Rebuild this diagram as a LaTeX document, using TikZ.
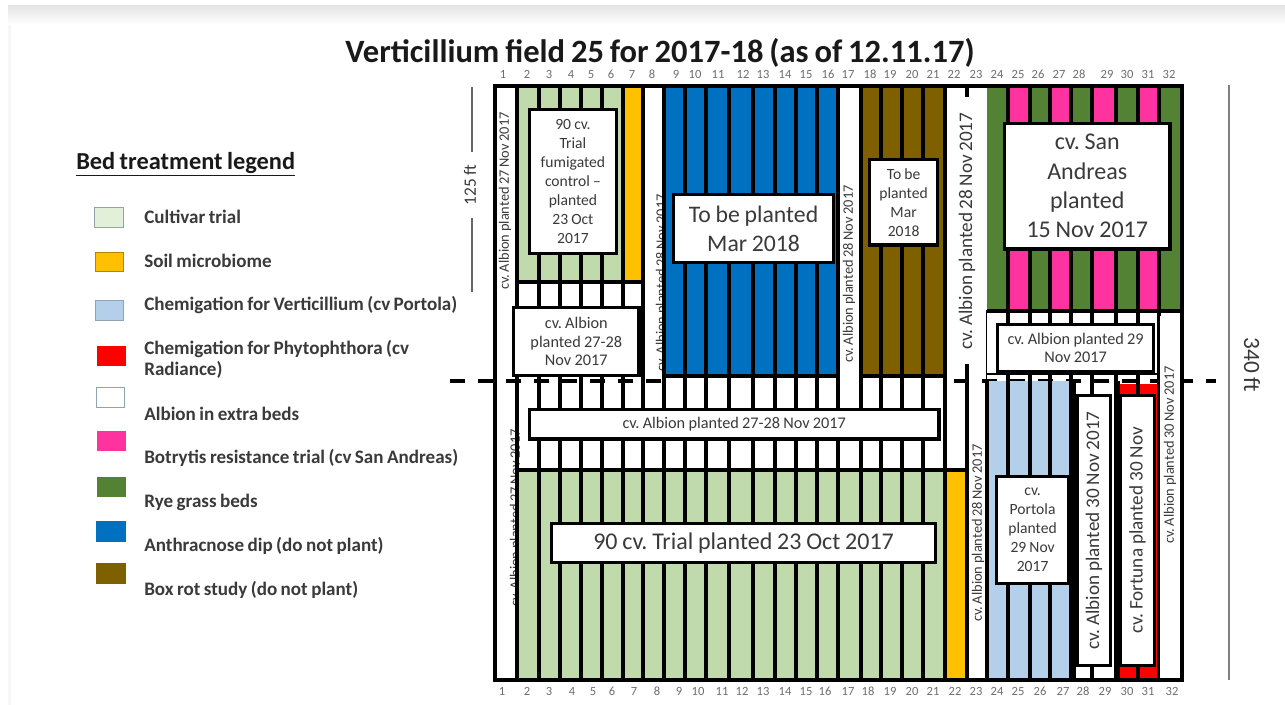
\documentclass[tikz,border=0pt]{standalone}
\usepackage{fontspec}
\setmainfont[WordSpace=0.8]{Carlito}
\frenchspacing
\definecolor{trial}{HTML}{C1DAAB}
\definecolor{trialleg}{HTML}{E2F0D9}
\definecolor{soil}{HTML}{FFC000}
\definecolor{chemv}{HTML}{B4CFEA}
\definecolor{chemp}{HTML}{FF0000}
\definecolor{botry}{HTML}{FF33A0}
\definecolor{rye}{HTML}{548235}
\definecolor{anth}{HTML}{0070C0}
\definecolor{boxrot}{HTML}{7F6000}
\definecolor{ink}{HTML}{3A3A3A}
\definecolor{numc}{HTML}{6E6E6E}
\definecolor{edgeb}{HTML}{8FA3B5}
\newcommand{\fsz}[2]{\fontsize{#1}{#2}\selectfont}
\tikzset{
 bedline/.style={black,line width=2.6pt},
 labelbox/.style={draw=black,fill=white,line width=2.4pt,align=center,text=ink,inner sep=0pt,anchor=north west,execute at begin node={\spaceskip=.2em\relax}},
 sidelabel/.style={rotate=90,text=ink,inner sep=0pt},
 smallside/.style={sidelabel,font=\fsz{10.8}{12}},
 numlabel/.style={text=numc,inner sep=0pt,font=\fsz{9.4}{10}},
 swatch/.style={line width=.7pt},
 legendtext/.style={text=ink,anchor=west,inner sep=0pt,font=\fsz{14.3}{16}\bfseries},
}
\begin{document}
\begin{tikzpicture}[x=.75pt,y=-.75pt]
\useasboundingbox (0,0) rectangle (1285,705);
\fill[white] (0,0) rectangle (1285,705);
\shade[top color=black!10,bottom color=white] (8,6) rectangle (1285,25);
\fill[black!3] (8,25) rectangle (11,705);
\node[font=\fsz{24.4}{26}\bfseries,inner sep=0pt,text=black!90] (title) at (660,52.5) {Verticillium field 25 for 2017-18 (as of 12.11.17)};
% dashed midline
\coordinate (dashL) at (450,381); \coordinate (dashR) at (1216,381);
\draw[black,line width=2.6pt,dash pattern=on 11pt off 10pt] (dashL) -- (dashR);
\fill[white] (664,376) rectangle (945,395);
% half hidden labels
\node[smallside] (hid1) at (662,283) {cv. Albion planted 28 Nov 2017};
\node[smallside] (hid2) at (516,518) {cv. Albion planted 27 Nov 2017};
% beds upper
\foreach \a/\b/\c in {517/539/trial,539/560/trial,560/581/trial,581/602/trial,602/623/trial,623/643/soil} \fill[\c] (\a,87) rectangle (\b,282);
\foreach \a/\b in {664/685,685/706,706/729,729/753,753/775,775/796,796/817,817/838} \fill[anth] (\a,87) rectangle (\b,375);
\foreach \a/\b in {861/881,881/902,902/923,923/945} \fill[boxrot] (\a,87) rectangle (\b,375);
\foreach \a/\b/\c in {987/1008/rye,1008/1030/botry,1030/1050/rye,1050/1071/botry,1071/1092/rye,1092/1116/botry,1116/1138/rye,1138/1159/botry,1159/1182/rye} \fill[\c] (\a,87) rectangle (\b,310);
% beds lower
\foreach \a/\b in {517/539,539/560,560/581,581/602,602/623,623/643,643/664,664/685,685/706,706/729,729/753,753/775,775/796,796/817,817/838,838/861,861/881,881/902,902/923,923/945} \fill[trial] (\a,470) rectangle (\b,680);
\fill[soil] (945,470) rectangle (967,680);
\foreach \a/\b in {987/1008,1008/1030,1030/1050,1050/1073} \fill[chemv] (\a,381) rectangle (\b,680);
\fill[chemp] (1116,384) rectangle (1159,680);
% vertical bed lines
\foreach \x in {495,517,539,560,581,602,623,643,664,685,706,729,753,775,796,817,838,861,881,902,923,945,1008,1030,1050,1071,1092,1116,1138,1159,1182}
  \draw[bedline] (\x,87) -- (\x,680);
\draw[bedline] (967,87) -- (967,680);
\draw[bedline] (987,381) -- (987,680);
\draw[black,line width=.6pt] (986,310) -- (986,381);
\draw[black,line width=4pt] (1073,381) -- (1073,680);
\draw[black,line width=4.5pt] (1117,381) -- (1117,680);
% horizontal bed lines
\draw[bedline] (493,86) -- (1184,86);
\draw[bedline] (493,680) -- (1184,680);
\draw[bedline] (517,282) -- (643,282);
\draw[bedline] (664,376) -- (838,376);
\draw[bedline] (861,376) -- (945,376);
\draw[bedline] (517,470) -- (967,470);
\draw[bedline] (987,311) -- (1182,311);
\draw[black,line width=1pt] (987,374) -- (1159,374);
% white masks
\fill[white] (956,97) rectangle (985,364);
\fill[white] (1160,316) rectangle (1180,678);
% side labels
\node[smallside] (lab1) at (505,201) {cv. Albion planted 27 Nov 2017};
\node[smallside] (lab17) at (849,274) {cv. Albion planted 28 Nov 2017};
\node[sidelabel,font=\fsz{14.4}{16}] (lab22) at (967,231) {cv. Albion planted 28 Nov 2017};
\node[smallside] (lab23) at (978,533) {cv. Albion planted 28 Nov 2017};
\node[smallside] (lab32) at (1170,455) {cv. Albion planted 30 Nov 2017};
% label boxes
\node[labelbox,text width=65pt,minimum height=108pt,font=\fsz{11.7}{14.3}] (b1) at (528,108) {90 cv.\\Trial\\fumigated\\control –\\planted\\23 Oct\\2017};
\node[labelbox,text width=94pt,minimum height=51pt,font=\fsz{12.2}{14}] (b2) at (512,306) {cv. Albion\\planted 27-28\\Nov 2017};
\node[labelbox,text width=120pt,minimum height=51pt,font=\fsz{17.8}{22}] (b3) at (672,193) {To be planted\\Mar 2018};
\node[labelbox,text width=51pt,minimum height=64pt,font=\fsz{11.7}{14.3}] (b4) at (868,158) {To be\\planted\\Mar\\2018};
\node[labelbox,text width=124pt,minimum height=94pt,font=\fsz{18}{22}] (b5) at (1003,122) {cv. San\\Andreas\\planted\\15 Nov 2017};
\node[labelbox,text width=117pt,minimum height=35pt,font=\fsz{12.2}{14}] (b6) at (996,323) {cv. Albion planted 29\\Nov 2017};
\node[labelbox,text width=307pt,minimum height=22pt,font=\fsz{12.2}{14}] (b7) at (528,408) {cv. Albion planted 27-28 Nov 2017};
\node[labelbox,text width=288pt,minimum height=29pt,font=\fsz{18}{22}] (b8) at (550,522) {90 cv. Trial planted 23 Oct 2017};
\node[labelbox,text width=54pt,minimum height=80pt,font=\fsz{11.7}{14.3}] (b9) at (995,475) {cv.\\Portola\\planted\\29 Nov\\2017};
\node[labelbox,anchor=center,rotate=90,text width=202pt,minimum height=25pt,font=\fsz{14.4}{16}] (b10) at (1094,530.5) {cv. Albion planted 30 Nov 2017};
\node[labelbox,anchor=center,rotate=90,text width=202pt,minimum height=25pt,font=\fsz{14.4}{16}] (b11) at (1137.5,530.5) {cv. Fortuna planted 30 Nov};
% numbers
\foreach \n/\x in {1/503,2/527,3/549,4/571,5/591,6/611,7/632,8/652,9/676,10/695,11/718,12/743,13/763,14/785,15/806,16/828,17/848,18/870,19/890,20/912,21/933,22/954,23/976,24/997,25/1018,26/1038,27/1059,28/1079,29/1107,30/1127,31/1148,32/1169}
  \node[numlabel,anchor=base] (top\n) at (\x,79) {\n};
\foreach \n/\x in {1/502,2/527,3/549,4/572,5/593,6/612,7/634,8/657,9/679,10/698,11/722,12/742,13/763,14/785,15/806,16/825,17/848,18/868,19/890,20/912,21/933,22/955,23/976,24/997,25/1018,26/1040,27/1063,28/1083,29/1105,30/1127,31/1148,32/1172}
  \node[numlabel,anchor=base] (bot\n) at (\x,695) {\n};
% dimension marks
\coordinate (m1a) at (472,87); \coordinate (m1b) at (472,152);
\coordinate (m2a) at (472,218); \coordinate (m2b) at (472,292);
\coordinate (m3a) at (1229,85); \coordinate (m3b) at (1229,680);
\draw[black!60,line width=1.5pt] (m1a) -- (m1b) (m2a) -- (m2b);
\draw[black!50,line width=1.9pt] (m3a) -- (m3b);
\node[sidelabel,font=\fsz{13}{15}] (ft125) at (470,185) {125 ft};
\node[text=ink,inner sep=0pt,rotate=-90,font=\fsz{17.5}{19}] (ft340) at (1252,365) {340 ft};
% legend
\node[anchor=west,inner sep=0pt,text=black!90,font=\fsz{18.3}{20}\bfseries] (legtitle) at (76,164) {\underline{Bed treatment legend}};
\foreach \nm/\a/\b/\c/\d/\f/\e in {c/94/207/123/227/trialleg/edgeb,s/95/252/123/271/soil/soil!70!black,v/95/300/123/320/chemv/edgeb,p/97/346/125/365/chemp/chemp,a/96/387/124/407/white/edgeb,b/97/431/125/450/botry/botry,r/97/477/125/496/rye/rye,n/96/521/125/541/anth/anth,x/96/563/125/583/boxrot/boxrot}
  \draw[swatch,fill=\f,draw=\e] (\a,\b) rectangle (\c,\d);
\node[legendtext] (t1) at (144,217) {Cultivar trial};
\node[legendtext] (t2) at (144,261) {Soil microbiome};
\node[legendtext] (t3) at (144,305) {Chemigation for Verticillium (cv Portola)};
\node[legendtext] (t4) at (144,349) {Chemigation for Phytophthora (cv};
\node[legendtext] (t4b) at (144,370) {Radiance)};
\node[legendtext] (t5) at (144,414) {Albion in extra beds};
\node[legendtext] (t6) at (144,458) {Botrytis resistance trial (cv San Andreas)};
\node[legendtext] (t7) at (144,502) {Rye grass beds};
\node[legendtext] (t8) at (144,546) {Anthracnose dip (do not plant)};
\node[legendtext] (t9) at (144,590) {Box rot study (do not plant)};
\end{tikzpicture}
\end{document}
